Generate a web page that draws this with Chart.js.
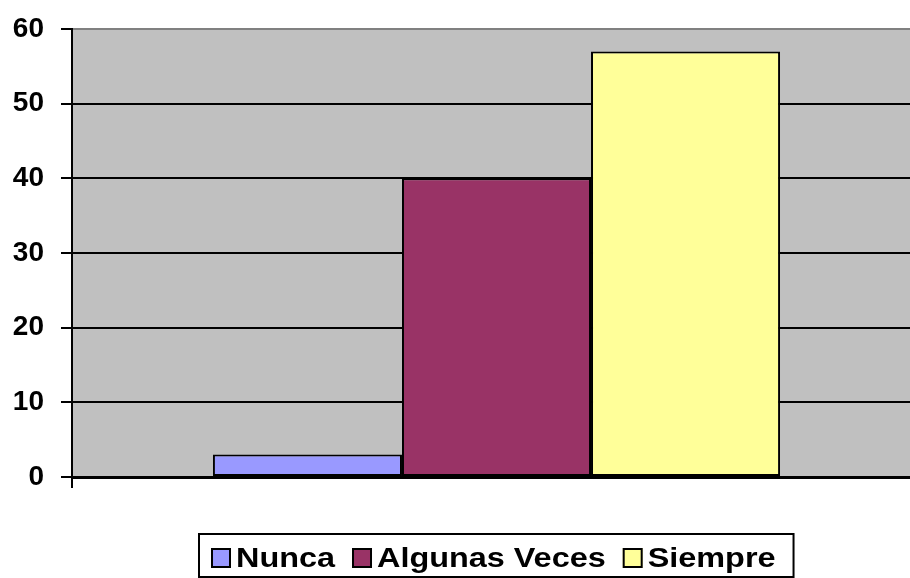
<!DOCTYPE html>
<html>
<head>
<meta charset="utf-8">
<script src="https://cdn.jsdelivr.net/npm/chart.js@4/dist/chart.umd.min.js"></script>
<style>
    html, body { margin: 0; padding: 0; background: #fff; overflow: hidden; }
    #wrap { position: relative; width: 921px; height: 578px; }
</style>
</head>
<body>
<div id="wrap"><canvas id="grafico"></canvas></div>
<script>
// Datos del gráfico
const categorias = [''];
const series = ['Nunca', 'Algunas Veces', 'Siempre'];
const valores = [3, 40, 57];
const colores = ['#9999FF', '#993366', '#FFFF99'];
const yTicks = [0, 10, 20, 30, 40, 50, 60];

// Fondo gris del área de trazado
const fondoPlot = {
    id: 'fondoPlot',
    beforeDraw(chart) {
        const { ctx, chartArea: a } = chart;
        ctx.save();
        ctx.fillStyle = '#C0C0C0';
        ctx.fillRect(a.left, a.top, a.right - a.left, a.bottom - a.top);
        ctx.restore();
    }
};

// Leyenda con recuadro, centrada bajo el área de trazado
const leyendaCaja = {
    id: 'leyendaCaja',
    afterDraw(chart) {
        const { ctx, chartArea: a } = chart;
        const font = 'bold 28px "Liberation Sans", Arial, sans-serif';
        const estirar = 1.157; // texto algo ensanchado, como en el original
        const sw = 20, gapText = 5, gapItem = 17, padL = 12, padR = 18;
        ctx.save();
        ctx.font = font;
        const widths = series.map(s => ctx.measureText(s).width * estirar);
        let total = padL + padR;
        widths.forEach((w, i) => {
            total += sw + gapText + w + (i < widths.length - 1 ? gapItem : 0);
        });
        const cx = (a.left + a.right) / 2;
        const left = Math.round(cx - total / 2);
        const top = 534, bottom = 577;
        ctx.strokeStyle = '#000';
        ctx.lineWidth = 2;
        ctx.strokeRect(left, top, total, bottom - top);

        const midY = 558;
        let x = left + padL;
        series.forEach((s, i) => {
            ctx.fillStyle = colores[i];
            ctx.fillRect(x, midY - sw / 2, sw, sw);
            ctx.strokeStyle = '#000';
            ctx.lineWidth = 2;
            ctx.strokeRect(x + 1, midY - sw / 2 + 1, sw - 2, sw - 2);
            x += sw + gapText;
            ctx.save();
            ctx.translate(x, midY + 1);
            ctx.scale(estirar, 1);
            ctx.fillStyle = '#000';
            ctx.textBaseline = 'middle';
            ctx.textAlign = 'left';
            ctx.fillText(s, 0, 0);
            ctx.restore();
            x += widths[i] + gapItem;
        });
        ctx.restore();
    }
};

const datasets = series.map((nombre, i) => ({
    label: nombre,
    data: [valores[i]],
    backgroundColor: colores[i],
    borderColor: '#000',
    borderWidth: 2,
    borderSkipped: false,
    categoryPercentage: 0.668,
    barPercentage: 1
}));

new Chart(document.getElementById('grafico'), {
    type: 'bar',
    data: { labels: categorias, datasets: datasets },
    options: {
        responsive: true,
        maintainAspectRatio: false,
        animation: false,
        layout: { padding: { top: 18, right: 0, left: 0, bottom: 0 } },
        plugins: {
            legend: { display: false },
            tooltip: { enabled: false }
        },
        scales: {
            x: {
                afterFit: scale => { scale.height = 101; },
                ticks: { display: false },
                grid: {
                    offset: true,
                    drawOnChartArea: false,
                    drawTicks: true,
                    tickLength: 11,
                    color: '#000',
                    lineWidth: 2
                },
                border: { display: true, color: '#000', width: 3 }
            },
            y: {
                min: 0,
                max: 60,
                afterFit: scale => { scale.width = 72; },
                afterBuildTicks: scale => {
                    scale.ticks = yTicks.map(v => ({ value: v }));
                },
                ticks: {
                    stepSize: 10,
                    padding: 17,
                    color: '#000',
                    font: { family: '"Liberation Sans", Arial, sans-serif', size: 28, weight: 'bold', lineHeight: 0.86 }
                },
                grid: {
                    color: ctx => (ctx.tick && ctx.tick.value === 60) ? '#808080' : '#000',
                    tickColor: '#000',
                    lineWidth: 2,
                    tickLength: 11
                },
                border: { display: true, color: '#000', width: 2 }
            }
        }
    },
    plugins: [fondoPlot, leyendaCaja]
});
</script>
</body>
</html>
